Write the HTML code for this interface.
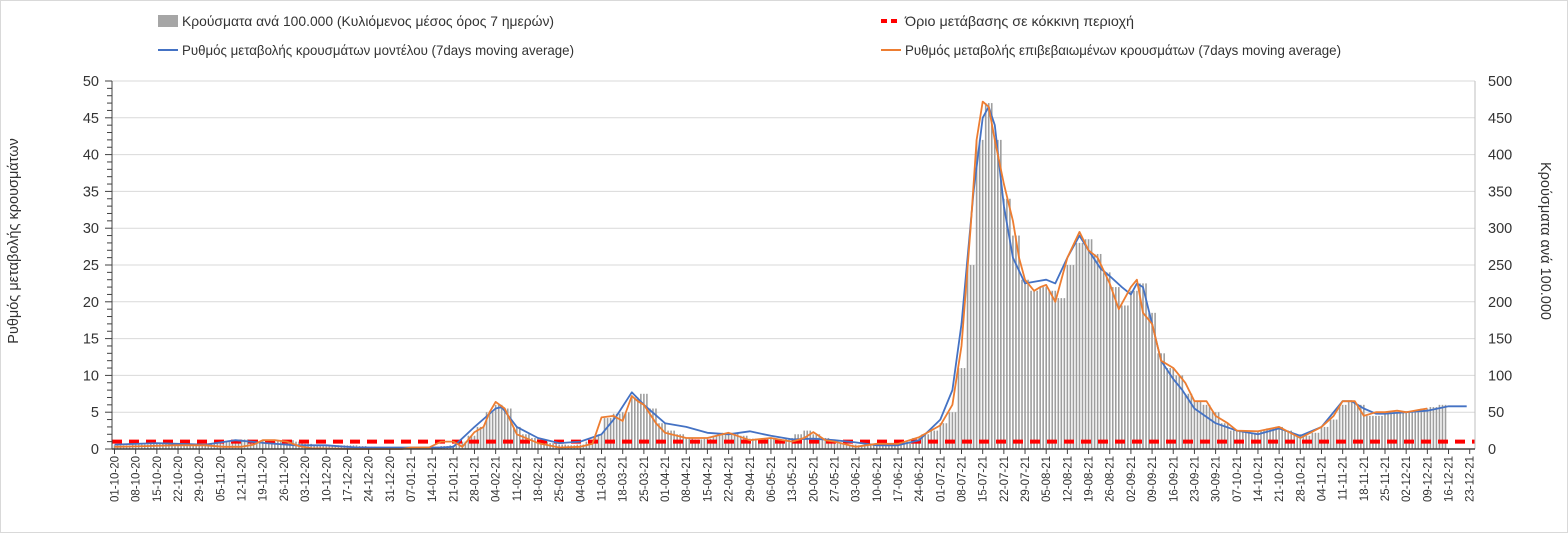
<!DOCTYPE html>
<html><head><meta charset="utf-8"><style>
body{margin:0;background:#fff;}
#wrap{position:relative;width:1568px;height:533px;border:1px solid #d9d9d9;box-sizing:border-box;overflow:hidden;}
svg text{font-family:"Liberation Sans",sans-serif;}
</style></head><body>
<div id="wrap">
<svg id="chart" width="1568" height="533"></svg>
</div>
<script>
const barValues=[5,5,6,6,7,7,8,6,6,6,7,8,10,12,13,12,11,10,12,12,10,7,5,4,5,5,5,4,3,2,2,2,2,2,2,3,4,
5,10,18,30,50,60,55,30,20,15,10,8,6,5,6,10,20,42,48,50,70,75,55,35,25,20,15,13,14,18,22,22,18,14,13,15,12,15,20,25,20,15,10,7,6,5,6,7,8,8,10,15,20,25,35,50,110,250,420,470,420,340,290,230,215,220,215,205,250,280,285,265,240,220,195,215,225,185,130,110,100,75,65,60,50,35,25,25,22,25,28,30,25,20,18,22,30,40,60,65,60,45,45,48,50,50,52,55,57,60];
const blueDays=[0,14,30,40,50,60,70,80,95,108,112,119,126,128,133,140,147,154,161,166,171,175,182,189,196,203,210,217,224,231,238,245,252,259,266,273,277,280,284,287,289,291,294,297,301,305,308,311,315,319,322,326,329,333,336,338,340,343,346,350,353,357,364,371,378,385,392,399,403,406,409,413,417,420,427,434,441,447];
const blueVals=[0.6,0.8,0.6,1.2,0.8,0.5,0.5,0.2,0.2,0.2,0.3,3,5.5,5.7,3,1.5,0.8,1.0,2,4.5,7.7,6,3.5,3,2.2,2,2.4,1.8,1.3,1.4,1.2,0.9,0.5,0.5,1.2,4,8,17,35,45,46.5,44,33,26,22.5,22.8,23,22.5,26,29,27,24.5,23.5,22,21,22.5,22,17,12,9.5,8,5.5,3.5,2.5,2,2.8,1.8,3,5,6.5,6.5,5.5,4.8,4.8,5,5.2,5.8,5.8];
const orangeDays=[0,10,20,30,36,42,46,49,53,57,61,65,80,95,98,104,108,112,115,119,122,124,126,129,133,140,147,154,158,161,165,168,171,173,175,179,182,189,196,203,210,217,221,224,228,231,235,238,245,252,259,266,273,277,280,283,285,287,289,291,294,297,299,301,304,306,308,311,315,319,322,325,329,332,336,338,340,343,346,350,354,357,361,364,368,371,378,385,392,399,403,406,410,413,417,420,424,427,431,434];
const orangeVals=[0.3,0.4,0.5,0.5,0.3,0.3,0.6,1.2,1.2,1.0,0.4,0.1,0,0,0.2,0.2,1.0,1.0,0.3,2.3,3,5,6.4,5.5,2,0.8,0.2,0.3,0.7,4.3,4.5,3.8,7.2,6.5,6,3.5,2.2,1.5,1.5,2.2,1.2,1.5,1.2,1.0,1.5,2.3,1.2,1.0,0.3,0.7,0.7,1.6,3.2,6,14,30,42,47.2,46.5,42,36,31,26,23,21.5,22,22.3,20,26,29.5,27,26,22.5,19,22,23,18.5,17,12,11,9,6.5,6.5,4.5,3.5,2.5,2.4,3,1.5,3,4.5,6.5,6.5,4.5,5,5,5.2,5,5.3,5.5];
const threshold=1;
const leftTicks=[0,5,10,15,20,25,30,35,40,45,50];
const rightTicks=[0,50,100,150,200,250,300,350,400,450,500];
const startDate=new Date(2020,9,1);
const totalDays=449;

const NS="http://www.w3.org/2000/svg";
const svg=document.getElementById('chart');
const X0=113.5,DX=3.025,YB=448,YS=7.36;
const xScale=d=>X0+d*DX;
const yL=v=>YB-v*YS;
const yR=v=>YB-v*YS/10;
function mk(tag,attrs,parent){const e=document.createElementNS(NS,tag);for(const k in attrs)e.setAttribute(k,attrs[k]);(parent||svg).appendChild(e);return e;}

leftTicks.forEach(t=>{
 if(t>0){const g=mk('line',{x1:111,x2:1474,y1:yL(t),y2:yL(t),stroke:'#d9d9d9','stroke-width':1});
 
 }
 const l=mk('text',{x:98,y:yL(t)+5,'text-anchor':'end','font-size':14.5,fill:'#333'});l.textContent=t;
 
 
});
rightTicks.forEach(t=>{
 const l=mk('text',{x:1487,y:yR(t)+5,'text-anchor':'start','font-size':14.5,fill:'#333'});l.textContent=t;
 
 
});
barValues.forEach((v,i)=>{
 const h=v*YS/10;
 for(let j=0;j<3;j++){
  const d=i*3+j;
  const b=mk('rect',{x:xScale(d)-0.8,y:YB-h,width:1.6,height:h,fill:'#9e9e9e'});
  
  
 }
});
const th=mk('line',{x1:111,x2:1474,y1:yL(threshold),y2:yL(threshold),stroke:'#ff0000','stroke-width':4,'stroke-dasharray':'10,7'});


function line(days,vals,color,name){
 const pts=days.map((d,i)=>xScale(d).toFixed(1)+','+yL(vals[i]).toFixed(1)).join(' ');
 const p=mk('polyline',{points:pts,fill:'none',stroke:color,'stroke-width':1.8,'stroke-linejoin':'round'});
 
 
}
line(blueDays,blueVals,'#4472c4','model-rate-line');
line(orangeDays,orangeVals,'#ed7d31','confirmed-rate-line');
mk('line',{x1:111,x2:111,y1:80,y2:448,stroke:'#404040','stroke-width':1});
mk('line',{x1:1474,x2:1474,y1:80,y2:448,stroke:'#bfbfbf','stroke-width':1});
mk('line',{x1:111,x2:1474,y1:448,y2:448,stroke:'#404040','stroke-width':1.5});
for(let v=0;v<=50;v++){mk('line',{x1:v%5?106:104,x2:111,y1:yL(v),y2:yL(v),stroke:'#404040','stroke-width':1});}
for(let k=0;k*7<totalDays;k++){
 const d=k*7,x=xScale(d);
 mk('line',{x1:x,x2:x,y1:448,y2:453,stroke:'#404040','stroke-width':1});
 const dt=new Date(startDate.getTime()+d*86400000);
 const s=String(dt.getDate()).padStart(2,'0')+'-'+String(dt.getMonth()+1).padStart(2,'0')+'-'+String(dt.getFullYear()%100);
 const t=mk('text',{x:0,y:0,'font-size':11.5,fill:'#333','text-anchor':'end',transform:`translate(${x+4},455) rotate(-90)`});
 t.textContent=s;
 
 
}
const lt=mk('text',{x:0,y:0,'font-size':14.5,fill:'#333','text-anchor':'middle',transform:'translate(17,240) rotate(-90)'});
lt.textContent='Ρυθμός μεταβολής κρουσμάτων';


const rt=mk('text',{x:0,y:0,'font-size':14.5,fill:'#333','text-anchor':'middle',transform:'translate(1540,240) rotate(90)'});
rt.textContent='Κρούσματα ανά 100.000';


const lg=[
 {x:157,y:20,type:'rect',c:'#a6a6a6',t:'Κρούσματα ανά 100.000 (Κυλιόμενος μέσος όρος 7 ημερών)',n:'legend-cases',w:372},
 {x:880,y:20,type:'dash',c:'#ff0000',t:'Όριο μετάβασης σε κόκκινη περιοχή',n:'legend-threshold',w:229},
 {x:157,y:49,type:'line',c:'#4472c4',t:'Ρυθμός μεταβολής κρουσμάτων μοντέλου (7days moving average)',n:'legend-model-rate',w:392},
 {x:880,y:49,type:'line',c:'#ed7d31',t:'Ρυθμός μεταβολής επιβεβαιωμένων κρουσμάτων (7days moving average)',n:'legend-confirmed-rate',w:436}];
lg.forEach(o=>{
 const g=mk('g',{});
 
 
 if(o.type==='rect')mk('rect',{x:o.x,y:o.y-6,width:20,height:12,fill:o.c},g);
 else if(o.type==='dash')mk('line',{x1:o.x,x2:o.x+18,y1:o.y,y2:o.y,stroke:o.c,'stroke-width':4,'stroke-dasharray':'6,4'},g);
 else mk('line',{x1:o.x,x2:o.x+20,y1:o.y,y2:o.y,stroke:o.c,'stroke-width':2},g);
 const t=mk('text',{x:o.x+24,y:o.y+5,'font-size':14,fill:'#333',textLength:o.w,lengthAdjust:'spacingAndGlyphs'},g);t.textContent=o.t;
});
</script>
</body></html>
